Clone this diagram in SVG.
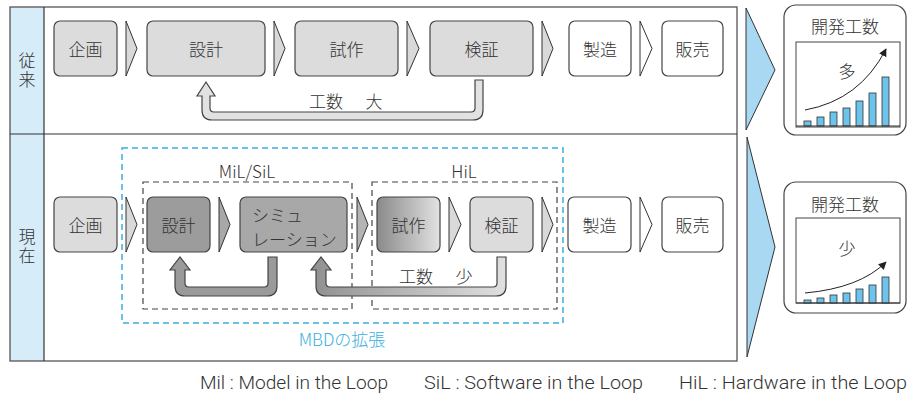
<svg xmlns="http://www.w3.org/2000/svg" width="908" height="396" viewBox="0 0 908 396">
<defs>
<style>
.t{font-family:"Noto Sans CJK JP","Noto Sans",sans-serif;font-weight:300;fill:#333;font-size:17px;text-anchor:middle;dominant-baseline:central}
.v{writing-mode:vertical-rl}
.box{stroke:#444;stroke-width:1.2}
.g1{fill:#dcdcdd}
.w{fill:#fff}
.chev{stroke:#333;stroke-width:1}
.bar{fill:#6cc4ec;stroke:#333;stroke-width:0.8}
.frame{fill:none;stroke:#555;stroke-width:1.3}
.dg{fill:none;stroke:#444;stroke-width:1.2;stroke-dasharray:6 4}
.db{fill:none;stroke:#3ab0e0;stroke-width:1.5;stroke-dasharray:6 4}
.foot{font-family:Roboto,"Liberation Sans",sans-serif;font-weight:300;font-size:18px;fill:#333}
</style>
<linearGradient id="gShisaku" x1="0" y1="0" x2="1" y2="0"><stop offset="0" stop-color="#8a8a8a"/><stop offset="1" stop-color="#e2e2e2"/></linearGradient>
<linearGradient id="gArrow2" x1="0" y1="0" x2="1" y2="0"><stop offset="0" stop-color="#909090"/><stop offset="1" stop-color="#e0e0e0"/></linearGradient>
<marker id="ah" viewBox="0 0 10 10" refX="9" refY="5" markerWidth="8" markerHeight="8" orient="auto"><path d="M0,0 L10,5 L0,10 z" fill="#222"/></marker>
</defs>

<!-- Frame -->
<g id="frame">
<rect x="10" y="7" width="34" height="354" fill="#d6ecf8"/>
<rect x="10" y="7" width="727" height="354" class="frame"/>
<line x1="44" y1="7" x2="44" y2="361" stroke="#333" stroke-width="1.2"/>
<line x1="10" y1="134" x2="737" y2="134" stroke="#333" stroke-width="1.2"/>
<text class="t v" x="27" y="71.5" letter-spacing="2">従来</text>
<text class="t v" x="27" y="247.5" letter-spacing="2">現在</text>
</g>

<!-- Top row -->
<g id="top-kikaku"><rect x="54" y="21" width="63" height="55" rx="6" class="box g1"/><text class="t" x="85.5" y="48.5">企画</text></g>
<g id="top-sekkei"><rect x="147" y="21" width="118" height="55" rx="6" class="box g1"/><text class="t" x="206" y="48.5">設計</text></g>
<g id="top-shisaku"><rect x="295" y="21" width="103" height="55" rx="6" class="box g1"/><text class="t" x="346.5" y="48.5">試作</text></g>
<g id="top-kensho"><rect x="430" y="21" width="103" height="55" rx="6" class="box g1"/><text class="t" x="481.5" y="48.5">検証</text></g>
<g id="top-seizo"><rect x="569" y="21" width="62" height="55" rx="6" class="box w"/><text class="t" x="600" y="48.5">製造</text></g>
<g id="top-hanbai"><rect x="662" y="21" width="61" height="55" rx="6" class="box w"/><text class="t" x="692.5" y="48.5">販売</text></g>

<!-- Bottom row -->
<g id="bot-kikaku"><rect x="54" y="197" width="63" height="55" rx="6" class="box g1"/><text class="t" x="85.5" y="224.5">企画</text></g>
<g id="bot-sekkei"><rect x="147" y="197" width="63" height="55" rx="6" class="box" fill="#9c9c9d"/><text class="t" x="178.5" y="224.5">設計</text></g>
<g id="bot-sim"><rect x="240" y="197" width="107" height="55" rx="6" class="box" fill="#a8a8a9"/><text class="t" font-size="15.5" style="text-anchor:start"><tspan x="252" y="214">シミュ</tspan><tspan x="252" y="237.5">レーション</tspan></text></g>
<g id="bot-shisaku"><rect x="377" y="197" width="63" height="55" rx="6" class="box" fill="url(#gShisaku)"/><text class="t" x="408.5" y="224.5">試作</text></g>
<g id="bot-kensho"><rect x="470" y="197" width="63" height="55" rx="6" class="box g1"/><text class="t" x="501.5" y="224.5">検証</text></g>
<g id="bot-seizo"><rect x="568" y="197" width="63" height="55" rx="6" class="box w"/><text class="t" x="599.5" y="224.5">製造</text></g>
<g id="bot-hanbai"><rect x="662" y="197" width="61" height="55" rx="6" class="box w"/><text class="t" x="692.5" y="224.5">販売</text></g>

<!-- Groups -->
<g id="mbd">
<rect x="122" y="148" width="441" height="175" class="db"/>
<text class="t" x="342" y="338" style="fill:#3ab0e0">MBDの拡張</text>
</g>
<g id="milsil">
<rect x="143" y="182" width="209" height="127" class="dg"/>
<text class="t" x="247" y="170" font-size="16">MiL/SiL</text>
</g>
<g id="hil">
<rect x="372" y="182" width="185" height="127" class="dg"/>
<text class="t" x="464" y="170" font-size="16">HiL</text>
</g>

<!-- Connectors -->
<g id="connectors">
<polygon points="126,21 137,48.5 126,76" class="chev" fill="#d9d9d9"/>
<polygon points="274,21 285,48.5 274,76" class="chev" fill="#d9d9d9"/>
<polygon points="407,21 419,48.5 407,76" class="chev" fill="#d9d9d9"/>
<polygon points="542,21 553,48.5 542,76" class="chev" fill="#d9d9d9"/>
<polygon points="640,21 652,48.5 640,76" class="chev" fill="#fff"/>
<polygon points="126,197 137,224.5 126,252" class="chev" fill="#d9d9d9"/>
<polygon points="219,197 230,224.5 219,252" class="chev" fill="#a8a8a8"/>
<polygon points="357,197 368,224.5 357,252" class="chev" fill="#b4b4b4"/>
<polygon points="449,197 461,224.5 449,252" class="chev" fill="#d9d9d9"/>
<polygon points="542,197 553,224.5 542,252" class="chev" fill="#d9d9d9"/>
<polygon points="640,197 652,224.5 640,252" class="chev" fill="#fff"/>
<path d="M202,96 L197,96 L206,82 L215,96 L210,96 L210,108 Q210,112 214,112 L471,112 Q475,112 475,108 L475,80 L483,80 L483,110 Q483,120 473,120 L212,120 Q202,120 202,110 Z" fill="#e2e2e2" stroke="#444" stroke-width="1.2"/>
<text class="t" x="326" y="100">工数</text>
<text class="t" x="374" y="100">大</text>
<path d="M175,270 L170,270 L180,257 L190,270 L185,270 L185,283 Q185,287 189,287 L264,287 Q268,287 268,283 L268,257 L277,257 L277,286 Q277,296 267,296 L185,296 Q175,296 175,286 Z" fill="#9a9a9a" stroke="#444" stroke-width="1.2"/>
<path d="M316,270 L311,270 L321,257 L331,270 L326,270 L326,283 Q326,287 330,287 L493,287 Q497,287 497,283 L497,257 L506,257 L506,286 Q506,296 496,296 L326,296 Q316,296 316,286 Z" fill="url(#gArrow2)" stroke="#444" stroke-width="1.2"/>
<text class="t" x="416" y="275">工数</text>
<text class="t" x="464" y="275">少</text>
<polygon points="746,8 775,70 746,130" fill="#a8d8f2" stroke="#333" stroke-width="1"/>
<polygon points="747,137 775,247 747,357" fill="#a8d8f2" stroke="#333" stroke-width="1"/>
</g>

<!-- Right charts -->
<g id="chart-top">
<rect x="784" y="5" width="122" height="130" rx="12" fill="#fff" stroke="#444" stroke-width="1.2"/>
<text class="t" x="845" y="25" font-size="18">開発工数</text>
<rect x="796" y="42" width="104" height="85" fill="#fff" stroke="#444" stroke-width="1"/>
<rect x="804" y="121" width="7" height="5" class="bar"/>
<rect x="817" y="117" width="7" height="9" class="bar"/>
<rect x="830" y="112" width="7" height="14" class="bar"/>
<rect x="843" y="108" width="7" height="18" class="bar"/>
<rect x="856" y="101" width="7" height="25" class="bar"/>
<rect x="869" y="93" width="7" height="33" class="bar"/>
<rect x="882" y="77" width="7" height="49" class="bar"/>
<line x1="796" y1="126" x2="900" y2="126" stroke="#333" stroke-width="1.2"/>
<path d="M805,110 Q860,100 886,49" fill="none" stroke="#222" stroke-width="1" marker-end="url(#ah)"/>
<text class="t" x="847" y="70">多</text>
</g>
<g id="chart-bottom">
<rect x="784" y="182" width="122" height="131" rx="12" fill="#fff" stroke="#444" stroke-width="1.2"/>
<text class="t" x="845" y="203" font-size="18">開発工数</text>
<rect x="796" y="218" width="104" height="85" fill="#fff" stroke="#444" stroke-width="1"/>
<rect x="804" y="300" width="7" height="3" class="bar"/>
<rect x="817" y="298" width="7" height="5" class="bar"/>
<rect x="830" y="295" width="7" height="8" class="bar"/>
<rect x="843" y="293" width="7" height="10" class="bar"/>
<rect x="856" y="289" width="7" height="14" class="bar"/>
<rect x="869" y="285" width="7" height="18" class="bar"/>
<rect x="882" y="277" width="7" height="26" class="bar"/>
<line x1="796" y1="303" x2="900" y2="303" stroke="#333" stroke-width="1.2"/>
<path d="M805,293 Q860,288 886,262" fill="none" stroke="#222" stroke-width="1" marker-end="url(#ah)"/>
<text class="t" x="847" y="247">少</text>
</g>

<!-- Footnote -->
<g id="footnote">
<text class="foot" x="200" y="389" textLength="188" lengthAdjust="spacingAndGlyphs">Mil : Model in the Loop</text>
<text class="foot" x="424" y="389" textLength="219" lengthAdjust="spacingAndGlyphs">SiL : Software in the Loop</text>
<text class="foot" x="679" y="389" textLength="228" lengthAdjust="spacingAndGlyphs">HiL : Hardware in the Loop</text>
</g>
</svg>
